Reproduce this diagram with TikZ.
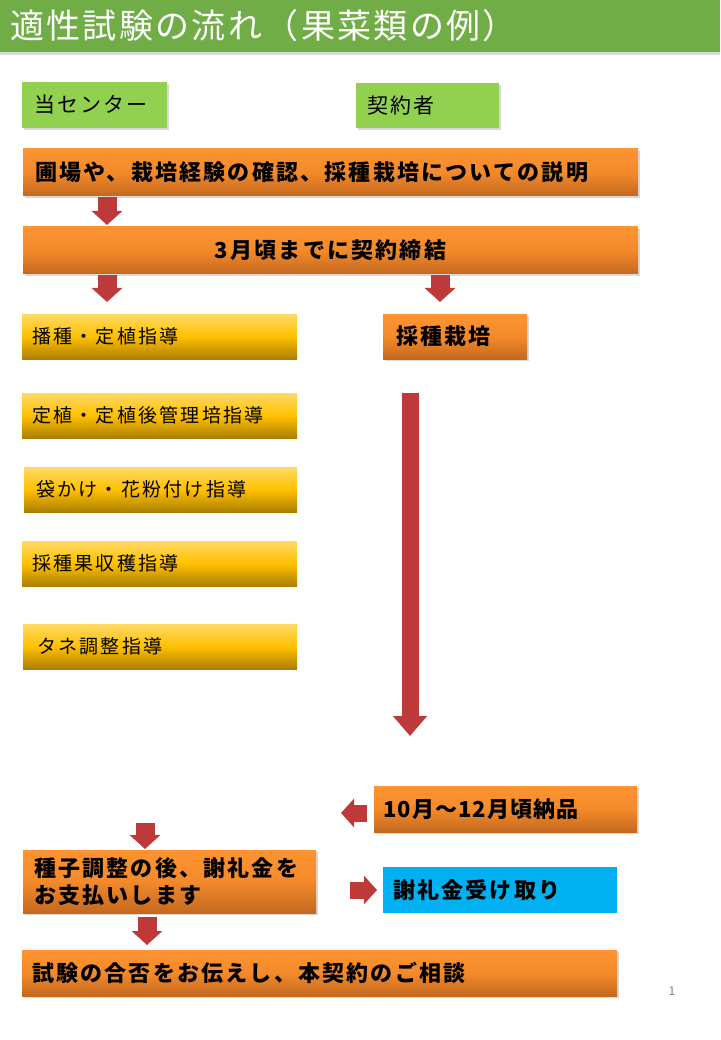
\documentclass[tikz,border=0pt]{standalone}
\usepackage{fontspec}
\setmainfont{Noto Sans CJK JP}
\newfontfamily\jt{Noto Sans CJK JP}[LetterSpace=7]
\newfontfamily\jb{Noto Sans CJK JP}[LetterSpace=10]
\newfontfamily\jbs{Noto Sans CJK JP}[LetterSpace=5]
\newfontfamily\jy{Noto Sans CJK JP}[LetterSpace=12]
\newfontfamily\jg{Noto Sans CJK JP}[LetterSpace=10]
\usetikzlibrary{shadows,arrows.meta}
\definecolor{hdr}{HTML}{70AD47}
\definecolor{grn}{HTML}{92D050}
\definecolor{orT}{HTML}{FF9331}
\definecolor{orM}{HTML}{F38A2B}
\definecolor{orB}{HTML}{C4681F}
\definecolor{yeT}{HTML}{FFD966}
\definecolor{yeM}{HTML}{FFC000}
\definecolor{yeB}{HTML}{AD7F00}
\definecolor{blu}{HTML}{00B0F0}
\definecolor{arr}{HTML}{BE3A3A}
\tikzset{
  base/.style={anchor=north west, rectangle, inner ysep=0pt, outer sep=0pt, align=left},
  shad/.style={drop shadow={shadow xshift=1.5pt,shadow yshift=-2pt,opacity=0.3}},
  gbox/.style={base, fill=grn, shad, font=\jg\fontsize{21pt}{25pt}\selectfont},
  obox/.style={base, top color=orT, bottom color=orB, middle color=orM, shad, font=\jb\bfseries\fontsize{22pt}{27pt}\selectfont},
  ybox/.style={base, top color=yeT, bottom color=yeB, middle color=yeM, font=\jy\fontsize{19pt}{23pt}\selectfont, inner xsep=10pt, text width=255pt, minimum height=45pt},
  bbox/.style={base, fill=blu, font=\jb\bfseries\fontsize{22pt}{27pt}\selectfont},
  barrow/.style={draw=arr, line width=19pt, -{Triangle[width=30pt,length=14pt]}},
  longarrow/.style={draw=arr, line width=17pt, -{Triangle[width=33pt,length=20pt]}},
  harrow/.style={draw=arr, line width=17pt, -{Triangle[width=28pt,length=13pt]}}
}
\begin{document}
\begin{tikzpicture}[x=1pt,y=-1pt]
\fill[white] (0,0) rectangle (720,1040);
\useasboundingbox (0,0) rectangle (720,1040);
% header
\node[base, fill=hdr, drop shadow={shadow xshift=0pt,shadow yshift=-3pt,opacity=0.3}, minimum height=52pt, inner xsep=10pt, text width=700pt, text=white, font=\jt\fontsize{34pt}{38pt}\selectfont] (title) at (0,0) {適性試験の流れ（果菜類の例）};
% column heads
\node[gbox, inner xsep=12pt, text width=121pt, minimum height=46pt] (c1) at (22,82) {当センター};
\node[gbox, inner xsep=11pt, text width=121pt, minimum height=45pt] (c2) at (356,83) {契約者};
% main boxes
\node[obox, inner xsep=12pt, text width=591pt, minimum height=47pt] (b1) at (23,149) {圃場や、栽培経験の確認、採種栽培についての説明};
\node[obox, inner xsep=12pt, text width=591pt, minimum height=47pt, align=center] (b2) at (23,227) {3月頃までに契約締結};
\node[ybox] (y1) at (22,314) {播種・定植指導};
\node[obox, inner xsep=13pt, text width=118pt, minimum height=45pt] (o1) at (383,314) {採種栽培};
\node[ybox] (y2) at (22,393) {定植・定植後管理培指導};
\node[ybox, inner xsep=12pt, text width=249pt] (y3) at (24,467) {袋かけ・花粉付け指導};
\node[ybox] (y4) at (22,541) {採種果収穫指導};
\node[ybox, inner xsep=14pt, text width=246pt] (y5) at (23,624) {タネ調整指導};
\node[obox, font=\jbs\bfseries\fontsize{22pt}{27pt}\selectfont, inner xsep=9pt, text width=245pt, minimum height=46pt] (d1) at (374,786) {10月～12月頃納品};
\node[obox, inner xsep=11pt, text width=271pt, minimum height=63pt] (p1) at (23,850) {種子調整の後、謝礼金を\\お支払いします};
\node[bbox, inner xsep=10pt, text width=214pt, minimum height=46pt] (bl) at (383,867) {謝礼金受け取り};
\node[obox, inner xsep=10pt, text width=575pt, minimum height=46pt] (f1) at (22,950) {試験の合否をお伝えし、本契約のご相談};
\node[font=\fontsize{12pt}{14pt}\selectfont, text=gray] (pg) at (672,991) {1};
% arrows
\draw[barrow, shorten <=1pt, shorten >=2pt] ([xshift=84pt]b1.south west) -- ([xshift=84pt]b2.north west);
\draw[barrow, shorten <=1pt, shorten >=12pt] ([xshift=84pt]b2.south west) -- ([xshift=85pt]y1.north west);
\draw[barrow, shorten <=1pt, shorten >=12pt] ([xshift=417pt]b2.south west) -- ([xshift=57pt]o1.north west);
\draw[longarrow, shorten <=34pt, shorten >=50pt] ([xshift=27pt]o1.south west) -- ([xshift=27pt]o1.south west |- d1.north);
\coordinate (lend) at (341,813);
\draw[harrow, shorten <=7pt] ([yshift=-4pt]d1.west) -- (lend);
\coordinate (pin) at (145,823);
\draw[barrow, shorten >=1pt] (pin) -- ([xshift=122pt]p1.north west);
\draw[harrow, shorten <=34pt, shorten >=6pt] (p1.east |- bl.west) -- (bl.west);
\draw[barrow, shorten <=4pt, shorten >=5pt] ([xshift=124pt]p1.south west) -- ([xshift=124pt]p1.south west |- f1.north);
\end{tikzpicture}
\end{document}
